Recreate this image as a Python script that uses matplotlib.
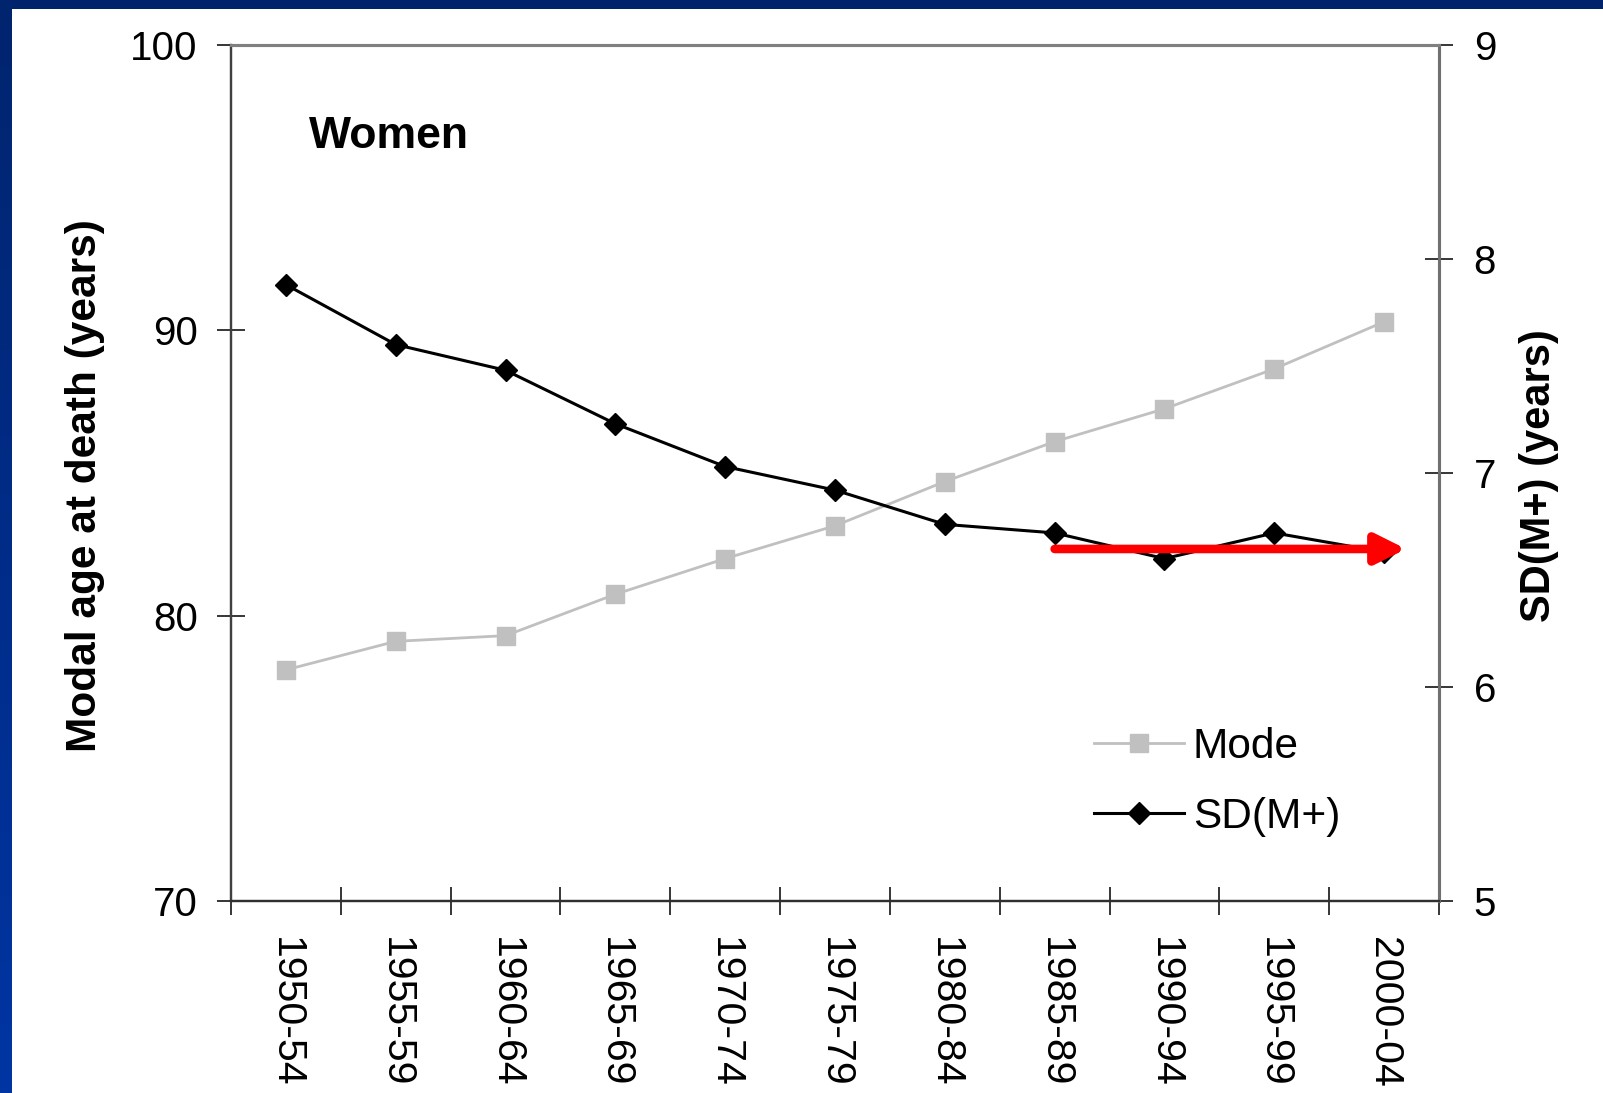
import numpy as np
import matplotlib
matplotlib.use("Agg")
import matplotlib.pyplot as plt
from matplotlib.lines import Line2D

plt.rcParams['font.family'] = ['Liberation Sans', 'DejaVu Sans']

# donnees
periods = ["1950-54", "1955-59", "1960-64", "1965-69", "1970-74", "1975-79",
           "1980-84", "1985-89", "1990-94", "1995-99", "2000-04"]
mode = [78.1, 79.1, 79.3, 80.75, 82.0, 83.15, 84.7, 86.1, 87.25, 88.65, 90.3]
sd_mplus = [7.88, 7.60, 7.48, 7.23, 7.03, 6.92, 6.76, 6.72, 6.60, 6.72, 6.63]
left_ticks = [70, 80, 90, 100]
right_ticks = [5, 6, 7, 8, 9]
arrow_y = 6.645          # niveau de la fleche rouge (axe de droite)
arrow_x = (7, 10.2)      # de 1985-89 jusqu'apres 2000-04

fig = plt.figure(figsize=(16.03, 10.93), dpi=100)
fig.patch.set_facecolor('white')

# cadre bleu (haut + bande gauche en degrade)
top = fig.add_axes([0, 1 - 9/1093, 1, 9/1093])
top.set_axis_off()
top.add_patch(plt.Rectangle((0, 0), 1, 1, color='#00236b', transform=top.transAxes))
left = fig.add_axes([0, 0, 12/1603, 1])
grad = np.linspace(0, 1, 256).reshape(-1, 1)
cmap = matplotlib.colors.LinearSegmentedColormap.from_list('bl', ['#0035a3', '#00246e'])
left.imshow(grad, aspect='auto', cmap=cmap, origin='lower', extent=[0, 1, 0, 1])
left.set_axis_off()

ax = fig.add_axes([231/1603, 1 - 901/1093, 1208/1603, 856/1093])
ax2 = ax.twinx()

x = np.arange(len(periods))
ax.plot(x, mode, color='#c0c0c0', lw=2.0, marker='s', ms=13, mec='#c0c0c0', mfc='#c0c0c0',
        label='Mode')
ax2.plot(x, sd_mplus, color='black', lw=2.2, marker='D', ms=11, mec='black', mfc='black',
         label='SD(M+)')

ax.set_xlim(-0.5, len(periods) - 0.5)
ax.set_ylim(70, 100)
ax2.set_ylim(5, 9)
ax.set_yticks(left_ticks)
ax2.set_yticks(right_ticks)
ax.set_xticks(np.arange(len(periods) + 1) - 0.5)
ax.set_xticklabels([])
ax.set_xticks(x, minor=True)
ax.set_xticklabels(periods, minor=True, rotation=270, fontsize=29.5)
ax.tick_params(axis='x', which='minor', length=0, pad=26)
ax.tick_params(axis='x', which='major', direction='inout', length=20, width=1.1)
ax.tick_params(axis='y', direction='inout', length=20, width=1.1, labelsize=29, pad=14)
ax2.tick_params(axis='y', direction='inout', length=20, width=1.1, labelsize=29, pad=15)

for a in (ax, ax2):
    a.spines['top'].set_color('#808080')
    a.spines['top'].set_linewidth(2.2)
    a.spines['right'].set_color('#707070')
    a.spines['right'].set_linewidth(2.2)
    a.spines['left'].set_color('#404040')
    a.spines['left'].set_linewidth(1.6)
    a.spines['bottom'].set_color('#303030')
    a.spines['bottom'].set_linewidth(1.6)

ax.set_ylabel("Modal age at death (years)", fontsize=30.5, fontweight='bold')
ax.yaxis.set_label_coords(-0.1047, 0.4854)
ax2.set_ylabel("SD(M+) (years)", fontsize=30, fontweight='bold', rotation=90)
ax2.yaxis.set_label_coords(1.0666, 0.497)

ax.text(0.0646, 0.893, "Women", transform=ax.transAxes, fontsize=32, fontweight='bold',
        ha='left', va='center')

# fleche rouge horizontale
ax2.annotate('', xy=(arrow_x[1], arrow_y), xytext=(arrow_x[0], arrow_y),
             arrowprops=dict(arrowstyle='-|>,head_length=0.9,head_width=0.45',
                             mutation_scale=20, lw=6.2, color='red',
                             shrinkA=0, shrinkB=0),
             zorder=10)

handles = [Line2D([], [], color='#c0c0c0', lw=2.0, marker='s', ms=13),
           Line2D([], [], color='black', lw=2.2, marker='D', ms=11)]
fig.legend(handles, ['Mode', 'SD(M+)'], loc='center left',
           bbox_to_anchor=(1094/1603, 1 - 782/1093), frameon=False, fontsize=30.5,
           handlelength=2.13, handletextpad=0.2, labelspacing=0.72, borderpad=0,
           borderaxespad=0)

fig.savefig('out.png', dpi=100)
